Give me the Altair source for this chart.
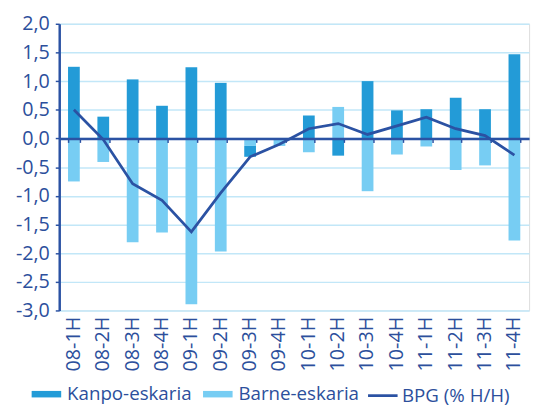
import altair as alt
import pandas as pd

cats = ["08-1H", "08-2H", "08-3H", "08-4H", "09-1H", "09-2H", "09-3H", "09-4H",
        "10-1H", "10-2H", "10-3H", "10-4H", "11-1H", "11-2H", "11-3H", "11-4H"]
kanpo = [1.25, 0.38, 1.03, 0.57, 1.24, 0.97, -0.19, 0.00,
         0.40, -0.30, 1.00, 0.49, 0.51, 0.71, 0.51, 1.47]
barne = [-0.75, -0.41, -1.81, -1.64, -2.89, -1.97, -0.13, -0.13,
         -0.24, 0.55, -0.92, -0.28, -0.14, -0.55, -0.47, -1.78]
bpg = [0.50, -0.02, -0.79, -1.08, -1.63, -0.95, -0.32, -0.10,
       0.17, 0.26, 0.07, 0.22, 0.37, 0.17, 0.05, -0.29]
series = ["Kanpo-eskaria", "Barne-eskaria"]
line_name = "BPG (% H/H)"
y_ticks = [-3.0, -2.5, -2.0, -1.5, -1.0, -0.5, 0.0, 0.5, 1.0, 1.5, 2.0]

NAVY = "#2b52a3"
TEXT = "#2c4f9c"
DARK = "#239bd7"
LIGHT = "#77cdf3"
GRID = "#c2e7f8"
FONT = "Open Sans"
WEIGHT = 500

W, H = 477, 291

bars_df = pd.DataFrame(
    [{"cat": c, "series": series[0], "value": k, "ord": 1} for c, k in zip(cats, kanpo)]
    + [{"cat": c, "series": series[1], "value": b, "ord": 0} for c, b in zip(cats, barne)]
)
line_df = pd.DataFrame({"cat": cats, "bpg": bpg, "name": [line_name] * len(cats)})

xscale = alt.Scale(domain=cats, paddingInner=0.6, paddingOuter=0.3)
yscale = alt.Scale(domain=[-3, 2], nice=False, zero=False)

y_axis = alt.Axis(title=None, values=y_ticks, grid=True, gridColor=GRID,
                  gridWidth=1.5, domain=True, domainColor=NAVY, domainWidth=2.5,
                  ticks=True, tickColor=NAVY, tickSize=4, tickWidth=1.5,
                  labelPadding=6, labelFontSize=20, labelColor=TEXT,
                  labelFont=FONT, labelFontWeight=WEIGHT, labelOverlap=False,
                  labelExpr="(datum.value < 0 ? '-' : '') + replace(format(abs(datum.value), '.1f'), '.', ',')")

bars = alt.Chart(bars_df).mark_bar().encode(
    x=alt.X("cat:N", sort=cats, scale=xscale,
            axis=alt.Axis(title=None, orient="bottom", labelAngle=270, domain=False,
                          ticks=False, grid=False, labelPadding=6, labelFontSize=20,
                          labelColor=TEXT, labelFont=FONT, labelFontWeight=WEIGHT)),
    y=alt.Y("value:Q", stack="zero", scale=yscale, axis=y_axis),
    color=alt.Color("series:N", scale=alt.Scale(domain=series, range=[DARK, LIGHT]),
                    legend=alt.Legend(title=None, orient="none", legendX=-28, legendY=361,
                                      direction="horizontal",
                                      symbolType="M-1,-0.22H1V0.22H-1Z", symbolSize=900,
                                      symbolStrokeWidth=0, labelOffset=6, columnPadding=11,
                                      labelFontSize=19, labelColor=TEXT, labelFont=FONT,
                                      labelFontWeight=WEIGHT)),
    order=alt.Order("ord:Q"),
)

line = alt.Chart(line_df).mark_line(strokeWidth=2.8).encode(
    x=alt.X("cat:N", sort=cats, scale=xscale,
            axis=alt.Axis(title=None, orient="bottom", labels=False, grid=False,
                          domain=True, domainColor=NAVY, domainWidth=2.5, ticks=True,
                          tickColor=NAVY, tickSize=4, tickWidth=1.5, tickBand="extent",
                          offset=-(3 / 5) * H, zindex=1)),
    y=alt.Y("bpg:Q", scale=yscale, axis=y_axis),
    stroke=alt.Stroke("name:N", scale=alt.Scale(domain=[line_name], range=[NAVY]),
                      legend=alt.Legend(title=None, orient="none", legendX=312, legendY=361,
                                        symbolType="stroke", symbolSize=900,
                                        symbolStrokeWidth=2.8, labelOffset=3,
                                        labelFontSize=19, labelColor=TEXT, labelFont=FONT,
                                        labelFontWeight=WEIGHT)),
)

chart = alt.layer(bars, line).resolve_axis(x="independent").properties(
    width=W, height=H,
    autosize=alt.AutoSizeParams(type="none"),
    padding={"left": 52, "top": 13, "right": 6, "bottom": 96},
).configure_view(stroke=None).configure(background="white")

chart.save("out.html", embed_options={"renderer": "svg", "actions": False})
